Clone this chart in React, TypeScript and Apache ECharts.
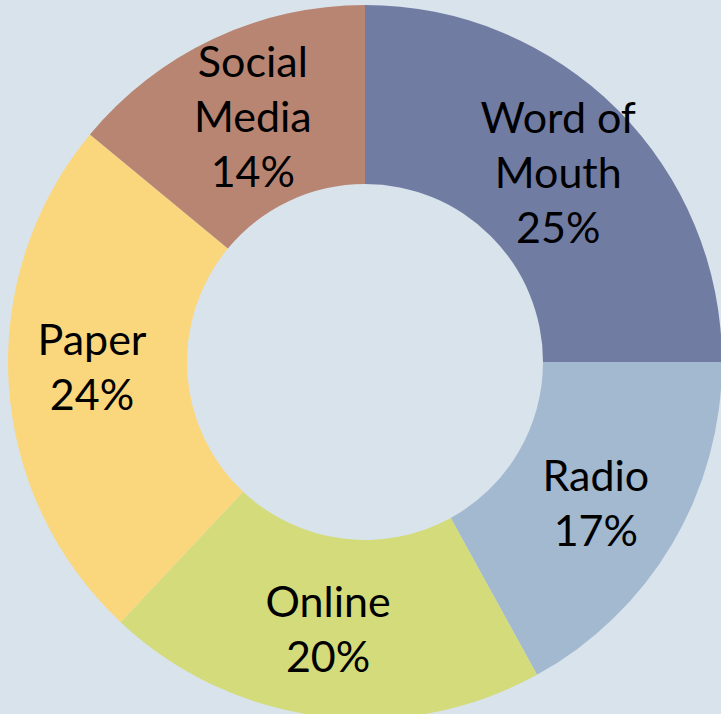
import React, { useEffect, useRef } from "react";
import * as echarts from "echarts";

const categories = ["Word of Mouth", "Radio", "Online", "Paper", "Social Media"];
const labelTexts = ["Word of\nMouth", "Radio", "Online", "Paper", "Social\nMedia"];
const values = [25, 17, 20, 24, 14];
const colors = ["#717CA3", "#A2B9D0", "#D3DB7B", "#FAD77D", "#B88572"];
const labelOffsets: [number, number][] = [[2, 1], [-2, 2], [-3, -2], [-3, -13], [3, -2]];

export default function App() {
  const ref = useRef<HTMLDivElement>(null);
  useEffect(() => {
    if (!ref.current) return;
    const chart = echarts.init(ref.current, undefined, { renderer: "svg" });
    chart.setOption({
      animation: false,
      backgroundColor: "#D9E3EC",
      series: [
        {
          type: "pie",
          center: [365, 362],
          radius: [178, 357],
          startAngle: 90,
          clockwise: true,
          avoidLabelOverlap: false,
          emphasis: { disabled: true },
          itemStyle: { borderWidth: 0 },
          label: {
            show: true,
            position: "inside",
            color: "#000000",
            fontSize: 43,
            lineHeight: 55,
            fontFamily: "Lato, 'Open Sans', sans-serif",
            align: "center",
            formatter: (p: any) => `${labelTexts[p.dataIndex]}\n${p.value}%`,
          },
          labelLine: { show: false },
          data: categories.map((c, i) => ({
            name: c,
            value: values[i],
            itemStyle: { color: colors[i] },
            label: { offset: labelOffsets[i] },
          })),
        },
      ],
    });
    return () => chart.dispose();
  }, []);
  return (
    <div
      ref={ref}
      style={{ position: "fixed", left: 0, top: 0, width: 721, height: 714 }}
    />
  );
}
